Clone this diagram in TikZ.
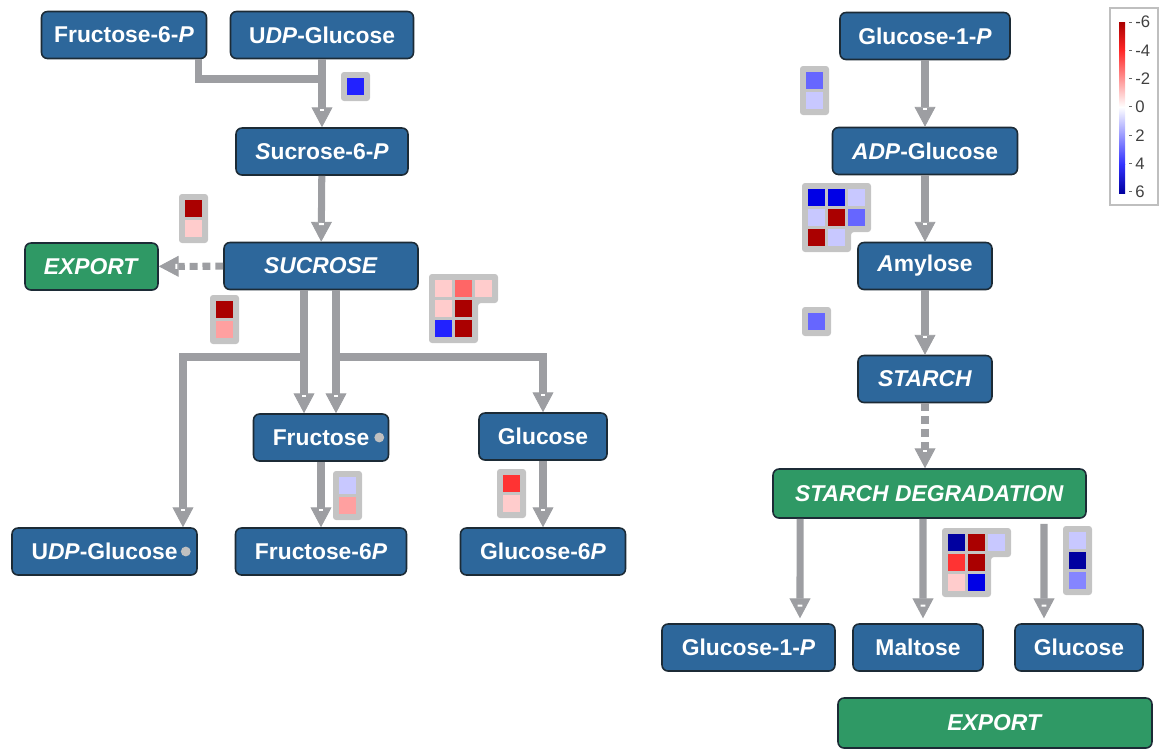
\documentclass[tikz,border=0pt]{standalone}
\usepackage{fontspec}
\setmainfont{Liberation Sans}
\usetikzlibrary{arrows.meta}
\usetikzlibrary{decorations.markings}

\definecolor{boxblue}{HTML}{2D679B}
\definecolor{boxgreen}{HTML}{2F9965}
\definecolor{boxedge}{HTML}{1C2B36}
\definecolor{flowgray}{HTML}{9D9EA2}
\definecolor{hmback}{HTML}{C4C4C4}
\definecolor{dotgray}{HTML}{C0C0C0}
\definecolor{hdred}{HTML}{AA0000}
\definecolor{hred}{HTML}{FF3333}
\definecolor{hsalmon}{HTML}{FF6666}
\definecolor{hpink}{HTML}{FFA0A0}
\definecolor{hlpink}{HTML}{FFCCCC}
\definecolor{hlav}{HTML}{C8C8FF}
\definecolor{hmblue}{HTML}{6666FF}
\definecolor{hblue}{HTML}{2222FF}
\definecolor{hdblue}{HTML}{0000E6}
\definecolor{hnavy}{HTML}{0000A0}

\begin{document}
\begin{tikzpicture}[x=0.02cm,y=-0.02cm,
  met/.style={draw=boxedge,fill=boxblue,rounded corners=0.12cm,line width=0.9pt,text=white,
    font=\bfseries\fontsize{13}{15}\selectfont,minimum height=0.94cm,inner sep=0pt},
  proc/.style={met,fill=boxgreen},
  flowline/.style={draw=flowgray,line width=4pt},
  flow/.style={flowline,-{Triangle[width=11.9pt,length=11.3pt,line width=0.5pt]},
    postaction={decorate,decoration={markings,mark=at position 1 with
      {\fill[white] (-10.6pt,-1.4pt) rectangle (-9.5pt,1.4pt);}}}},
  flowdash/.style={flow,dash pattern=on 4.5pt off 2.8pt},
  hmbox/.style={fill=hmback,rounded corners=1.7pt},
  lgtext/.style={text=black!75,font=\fontsize{9.5}{11}\selectfont,inner sep=0pt,anchor=west}]
  \useasboundingbox (0,0) rectangle (1160,751);

  % sucrose side
  \node[met,minimum width=3.3cm] (f6p) at (124,35) {Fructose-6-\textit{P}};
  \node[met,minimum width=3.66cm] (udpg) at (322,35) {U\textit{DP}-Glucose};
  \node[met,minimum width=3.44cm] (s6p) at (322,151.5) {\textit{S}ucrose-6-\textit{P}};
  \node[met,minimum width=3.88cm] (suc) at (321,266) {\textit{SUCROSE}};
  \node[proc,minimum width=2.66cm] (expl) at (91.5,266.5) {\textit{EXPORT}};
  \node[met,minimum width=2.7cm] (fru) at (321,437.5) {Fructose};
  \node[met,minimum width=2.56cm] (glcl) at (543,436.5) {Glucose};
  \node[met,minimum width=3.7cm] (udpg2) at (104.5,551.5) {U\textit{DP}-Glucose};
  \node[met,minimum width=3.42cm] (f6p2) at (321,551.5) {Fructose-6\textit{P}};
  \node[met,minimum width=3.3cm] (g6p) at (543,551.5) {Glucose-6\textit{P}};
  \fill[dotgray] ([xshift=-0.2cm]fru.east) circle (2.8pt);
  \fill[dotgray] ([xshift=-0.24cm]udpg2.east) circle (2.8pt);

  \coordinate (j1) at (322,79);
  \coordinate (bl) at (304,357);
  \coordinate (br) at (336,357);
  \draw[flowline] ([xshift=-0.18cm]f6p.south east) |- (j1);
  \draw[flow] (udpg) -- (s6p);
  \draw[flow] (s6p) -- (suc);
  \draw[flowdash] (suc) -- (expl);
  \draw[flow] ([xshift=-0.34cm]suc.south) -- ([xshift=-0.34cm]fru.north);
  \draw[flow] ([xshift=0.3cm]suc.south) -- ([xshift=0.3cm]fru.north);
  \draw[flow] (bl) -| ([xshift=1.57cm]udpg2.north);
  \draw[flow] (br) -| (glcl.north);
  \draw[flow] (fru) -- (f6p2);
  \draw[flow] (glcl) -- (g6p);

  % starch side
  \node[met,minimum width=3.4cm] (g1p) at (925,36) {Glucose-1-\textit{P}};
  \node[met,minimum width=3.7cm] (adpg) at (925,151) {\textit{ADP}-Glucose};
  \node[met,minimum width=2.68cm] (amy) at (925,266) {\textit{A}mylose};
  \node[met,minimum width=2.68cm] (sta) at (925,379) {\textit{STARCH}};
  \node[proc,minimum width=6.26cm,minimum height=0.98cm] (stadeg) at (929.5,493.5) {\textit{STARCH DEGRADATION}};
  \node[met,minimum width=3.46cm] (g1p2) at (748.5,647.5) {Glucose-1-\textit{P}};
  \node[met,minimum width=2.6cm] (mal) at (918,647.5) {Maltose};
  \node[met,minimum width=2.56cm] (glcr) at (1079,647.5) {Glucose};
  \node[proc,minimum width=6.28cm,minimum height=1cm] (expr) at (995,723) {\textit{EXPORT}};

  \draw[flow] (g1p) -- (adpg);
  \draw[flow] (adpg) -- (amy);
  \draw[flow] (amy) -- (sta);
  \draw[flowdash] (sta) -- (sta |- stadeg.north);
  \draw[flow,shorten >=2.8pt] ([xshift=-2.59cm]stadeg.south) -- ([xshift=1.03cm]g1p2.north);
  \draw[flow,shorten >=2.8pt] ([xshift=-0.13cm]stadeg.south) -- ([xshift=0.1cm]mal.north);
  \draw[flow,shorten >=2.8pt] ([xshift=2.29cm,yshift=-0.1cm]stadeg.south) -- ([xshift=-0.7cm]glcr.north);

  % heat maps
  \fill[hmbox] (341,72) rectangle +(29,29);
  \fill[hblue] (347,78) rectangle +(17,17);
  \fill[hmbox] (179,194) rectangle +(29,49);
  \foreach \i/\j/\c in {0/0/hdred,0/1/hlpink}
    \fill[\c] ({185+20*\i},{200+20*\j}) rectangle +(17,17);
  \fill[hmbox] (210,295) rectangle +(29,49);
  \foreach \i/\j/\c in {0/0/hdred,0/1/hpink}
    \fill[\c] ({216+20*\i},{301+20*\j}) rectangle +(17,17);
  \fill[hmbox] (429,274) -- (498,274) -- (498,303) -- (478,303) -- (478,343) -- (429,343) -- cycle;
  \foreach \i/\j/\c in {0/0/hlpink,1/0/hsalmon,2/0/hlpink,0/1/hlpink,1/1/hdred,0/2/hblue,1/2/hdred}
    \fill[\c] ({435+20*\i},{280+20*\j}) rectangle +(17,17);
  \fill[hmbox] (333,471) rectangle +(29,49);
  \foreach \i/\j/\c in {0/0/hlav,0/1/hpink}
    \fill[\c] ({339+20*\i},{477+20*\j}) rectangle +(17,17);
  \fill[hmbox] (497,469) rectangle +(29,49);
  \foreach \i/\j/\c in {0/0/hred,0/1/hlpink}
    \fill[\c] ({503+20*\i},{475+20*\j}) rectangle +(17,17);

  \fill[hmbox] (800,66) rectangle +(29,49);
  \foreach \i/\j/\c in {0/0/hmblue,0/1/hlav}
    \fill[\c] ({806+20*\i},{72+20*\j}) rectangle +(17,17);
  \fill[hmbox] (802,183) -- (871,183) -- (871,232) -- (851,232) -- (851,252) -- (802,252) -- cycle;
  \foreach \i/\j/\c in {0/0/hdblue,1/0/hdblue,2/0/hlav,0/1/hlav,1/1/hdred,2/1/hmblue,0/2/hdred,1/2/hlav}
    \fill[\c] ({808+20*\i},{189+20*\j}) rectangle +(17,17);
  \fill[hmbox] (802,307) rectangle +(29,29);
  \fill[hmblue] (808,313) rectangle +(17,17);
  \fill[hmbox] (942,528) -- (1011,528) -- (1011,557) -- (991,557) -- (991,597) -- (942,597) -- cycle;
  \foreach \i/\j/\c in {0/0/hnavy,1/0/hdred,2/0/hlav,0/1/hred,1/1/hdred,0/2/hlpink,1/2/hdblue}
    \fill[\c] ({948+20*\i},{534+20*\j}) rectangle +(17,17);
  \fill[hmbox] (1063,526) rectangle +(29,69);
  \foreach \i/\j/\c in {0/0/hlav,0/1/hnavy,0/2/hmblue!80!white}
    \fill[\c] ({1069+20*\i},{532+20*\j}) rectangle +(17,17);

  % legend
  \draw[black!25,line width=0.6pt] (1110,8) rectangle (1158,205);
  \shade[top color=hdred,bottom color=red!85!white] (1119,22) rectangle (1125,50);
  \shade[top color=red!85!white,bottom color=white] (1119,50) rectangle (1125,107);
  \shade[top color=white,bottom color=blue!80!white] (1119,107) rectangle (1125,164);
  \shade[top color=blue!80!white,bottom color=hnavy] (1119,164) rectangle (1125,193);
  \foreach \v [count=\k from 0] in {-6,-4,-2,0,2,4,6} {
    \draw[black!60,line width=0.5pt] (1129,{22+28.3*\k}) -- (1132,{22+28.3*\k});
    \node[lgtext] (lg\k) at (1135,{22+28.3*\k}) {\v};
  }
\end{tikzpicture}
\end{document}
